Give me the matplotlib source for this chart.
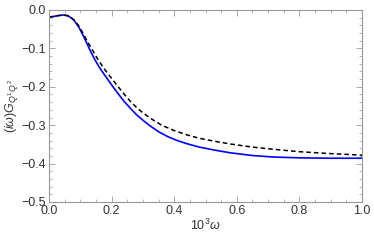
import numpy as np
import matplotlib
matplotlib.use('Agg')
import matplotlib.pyplot as plt
from matplotlib.ticker import MultipleLocator

plt.rcParams['font.family'] = ['Liberation Sans', 'DejaVu Sans']
plt.rcParams['mathtext.fontset'] = 'custom'
plt.rcParams['mathtext.rm'] = 'Liberation Sans'
plt.rcParams['mathtext.it'] = 'Liberation Sans:italic'

# valores
omega_blue = [0.0, 0.01, 0.02, 0.03, 0.046, 0.06, 0.07, 0.08, 0.094, 0.107, 0.12,
              0.133, 0.147, 0.163, 0.18, 0.20, 0.22, 0.24, 0.26, 0.28, 0.30, 0.32,
              0.35, 0.38, 0.41, 0.44, 0.48, 0.53, 0.58, 0.65, 0.72, 0.80, 0.90, 1.0]
g_blue = [-0.018, -0.0175, -0.016, -0.0145, -0.013, -0.015, -0.020, -0.027, -0.043,
          -0.063, -0.085, -0.108, -0.130, -0.152, -0.172, -0.195, -0.217, -0.238,
          -0.256, -0.273, -0.287, -0.300, -0.317, -0.330, -0.340, -0.348, -0.357,
          -0.365, -0.372, -0.379, -0.383, -0.385, -0.386, -0.386]

omega_black = [0.0, 0.01, 0.02, 0.03, 0.046, 0.06, 0.07, 0.08, 0.094, 0.107, 0.12,
               0.14, 0.157, 0.18, 0.20, 0.216, 0.24, 0.26, 0.28, 0.30, 0.33, 0.36,
               0.40, 0.44, 0.48, 0.53, 0.58, 0.65, 0.72, 0.80, 0.90, 1.0]
g_black = [-0.018, -0.0175, -0.016, -0.0145, -0.013, -0.015, -0.019, -0.026, -0.040,
           -0.058, -0.078, -0.106, -0.130, -0.157, -0.178, -0.195, -0.219, -0.238,
           -0.254, -0.268, -0.285, -0.300, -0.314, -0.325, -0.334, -0.342, -0.349,
           -0.357, -0.363, -0.369, -0.374, -0.378]

fig = plt.figure(figsize=(3.74, 2.41), dpi=100)
ax = fig.add_axes([49/374, 39/241, 313/374, 192/241])

ax.plot(omega_blue, g_blue, color='#0000ff', lw=1.2)
ax.plot(omega_black, g_black, color='black', lw=1.1, ls=(0, (3, 2)))

ax.set_xlim(0, 1)
ax.set_ylim(-0.5, 0)
ax.xaxis.set_major_locator(MultipleLocator(0.2))
ax.xaxis.set_minor_locator(MultipleLocator(0.05))
ax.yaxis.set_major_locator(MultipleLocator(0.1))
ax.yaxis.set_minor_locator(MultipleLocator(0.02))
ax.xaxis.set_major_formatter(plt.FuncFormatter(lambda v, p: f'{v:.1f}'))
ax.yaxis.set_major_formatter(plt.FuncFormatter(lambda v, p: f'{v:.1f}'.replace('-', '\u2212')))

grey = '#999999'
txt = '#333333'
for s in ax.spines.values():
    s.set_color(grey)
    s.set_linewidth(0.8)
ax.tick_params(which='both', direction='in', top=True, right=True, color=grey,
               labelsize=9, labelcolor=txt, pad=2)
ax.tick_params(which='major', length=4, width=0.6)
ax.tick_params(which='minor', length=2, width=0.5)

ax.set_xlabel(r'$10^3\omega$', fontsize=9, color=txt, labelpad=1)
ax.set_ylabel(r'$(i\omega)G_{Q^1Q^2}$', fontsize=9, color=txt, labelpad=1)

plt.savefig('out.png', dpi=100)
